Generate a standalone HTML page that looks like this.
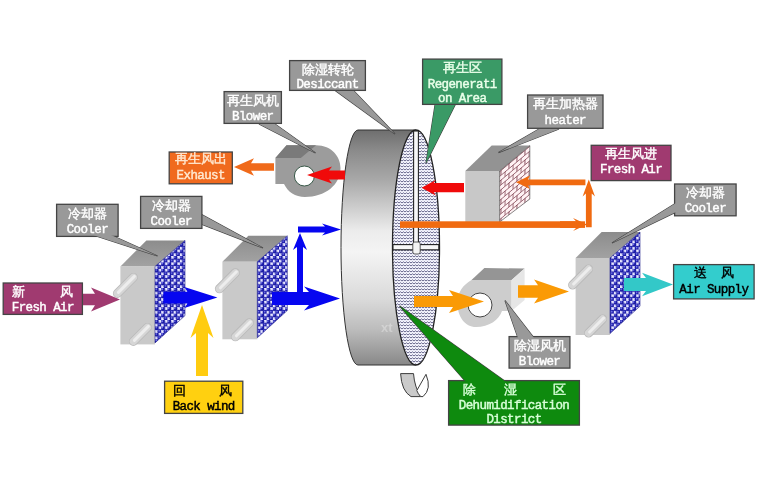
<!DOCTYPE html><html><head><meta charset="utf-8"><style>
html,body{margin:0;padding:0;background:#fff;width:757px;height:488px;overflow:hidden}
svg{display:block;will-change:transform}
.en{font-family:"Liberation Mono",monospace;font-size:12.5px;font-weight:normal;letter-spacing:-0.6px;stroke:currentColor;stroke-width:0.45px}
.zh{font-family:"Liberation Sans",sans-serif;font-size:12.5px;font-weight:normal;stroke:currentColor;stroke-width:0.4px}
</style></head><body>
<svg width="757" height="488" viewBox="0 0 757 488">
<defs>
<pattern id="mesh" width="6.2" height="6.4" patternUnits="userSpaceOnUse">
<rect width="6.2" height="6.4" fill="#e8e8ff"/>
<circle cx="1.55" cy="1.6" r="2.3" fill="#1818a4"/><circle cx="4.65" cy="4.8" r="2.3" fill="#1818a4"/>
<circle cx="1.1" cy="1.1" r="0.85" fill="#8080f4"/><circle cx="4.2" cy="4.3" r="0.85" fill="#8080f4"/>
</pattern>
<pattern id="wave" width="6" height="3" patternUnits="userSpaceOnUse">
<rect width="6" height="3" fill="#f6f6ff"/>
<path d="M0,2 L1.5,0.8 L3,2 L4.5,0.8 L6,2" fill="none" stroke="#54547c" stroke-width="0.9"/>
</pattern>
<pattern id="brick" width="8" height="9.6" patternUnits="userSpaceOnUse" patternTransform="skewY(-40)">
<rect width="8" height="9.6" fill="#fff2f4"/>
<path d="M0,0.4H8M0,5.2H8M1,0.4V5.2M5,5.2V10" fill="none" stroke="#7a3a4a" stroke-width="0.8"/>
</pattern>
<linearGradient id="wheelg" x1="0" y1="0" x2="0" y2="1">
<stop offset="0" stop-color="#6e6e6e"/><stop offset="0.085" stop-color="#8a8a8a"/><stop offset="0.21" stop-color="#a8a8a8"/><stop offset="0.43" stop-color="#ececec"/><stop offset="0.52" stop-color="#f4f4f4"/><stop offset="0.72" stop-color="#dadada"/><stop offset="0.85" stop-color="#bcbcbc"/><stop offset="1" stop-color="#888888"/>
</linearGradient>
<linearGradient id="topg" x1="0" y1="0" x2="0" y2="1">
<stop offset="0" stop-color="#8c8c8c"/><stop offset="1" stop-color="#a2a2a2"/>
</linearGradient>
<linearGradient id="frontg" x1="0" y1="0" x2="1" y2="0">
<stop offset="0" stop-color="#cfcfcf"/><stop offset="1" stop-color="#bdbdbd"/>
</linearGradient>
</defs>
<rect width="757" height="488" fill="#fff"/>

<polygon points="120.4,266.4 146.4,240.39999999999998 185.0,240.39999999999998 155.0,266.4" fill="url(#topg)"/>
<rect x="120.4" y="266.4" width="34.6" height="78" fill="#c9c9c9"/>
<polygon points="155.0,266.4 185.0,240.39999999999998 185.0,315.59999999999997 155.0,342.9" fill="url(#mesh)" stroke="#20208a" stroke-width="0.6"/>
<line x1="117.4" y1="293.4" x2="133.4" y2="277.4" stroke="#b9b9b9" stroke-width="9" stroke-linecap="round"/>
<line x1="117.4" y1="293.4" x2="133.4" y2="277.4" stroke="#d6d6d6" stroke-width="7.4" stroke-linecap="round"/>
<line x1="118.4" y1="292.4" x2="134.4" y2="276.4" stroke="#ededed" stroke-width="3" stroke-linecap="round"/>
<line x1="133.4" y1="341.4" x2="147.4" y2="327.4" stroke="#b9b9b9" stroke-width="9" stroke-linecap="round"/>
<line x1="133.4" y1="341.4" x2="147.4" y2="327.4" stroke="#d6d6d6" stroke-width="7.4" stroke-linecap="round"/>
<line x1="134.4" y1="340.4" x2="148.4" y2="326.4" stroke="#ededed" stroke-width="3" stroke-linecap="round"/>
<polygon points="222.4,261.8 248.4,235.8 287.3,235.8 257.3,261.8" fill="url(#topg)"/>
<rect x="222.4" y="261.8" width="34.9" height="77.5" fill="#c9c9c9"/>
<polygon points="257.3,261.8 287.3,235.8 287.3,310.5 257.3,337.8" fill="url(#mesh)" stroke="#20208a" stroke-width="0.6"/>
<line x1="219.4" y1="288.8" x2="235.4" y2="272.8" stroke="#b9b9b9" stroke-width="9" stroke-linecap="round"/>
<line x1="219.4" y1="288.8" x2="235.4" y2="272.8" stroke="#d6d6d6" stroke-width="7.4" stroke-linecap="round"/>
<line x1="220.4" y1="287.8" x2="236.4" y2="271.8" stroke="#ededed" stroke-width="3" stroke-linecap="round"/>
<line x1="235.4" y1="336.8" x2="249.4" y2="322.8" stroke="#b9b9b9" stroke-width="9" stroke-linecap="round"/>
<line x1="235.4" y1="336.8" x2="249.4" y2="322.8" stroke="#d6d6d6" stroke-width="7.4" stroke-linecap="round"/>
<line x1="236.4" y1="335.8" x2="250.4" y2="321.8" stroke="#ededed" stroke-width="3" stroke-linecap="round"/>
<polygon points="575.6,258 601.6,232 640.0,232 610.0,258" fill="url(#topg)"/>
<rect x="575.6" y="258" width="34.4" height="77" fill="#c9c9c9"/>
<polygon points="610.0,258 640.0,232 640.0,306.2 610.0,333.5" fill="url(#mesh)" stroke="#20208a" stroke-width="0.6"/>
<line x1="572.6" y1="285" x2="588.6" y2="269" stroke="#b9b9b9" stroke-width="9" stroke-linecap="round"/>
<line x1="572.6" y1="285" x2="588.6" y2="269" stroke="#d6d6d6" stroke-width="7.4" stroke-linecap="round"/>
<line x1="573.6" y1="284" x2="589.6" y2="268" stroke="#ededed" stroke-width="3" stroke-linecap="round"/>
<line x1="588.6" y1="333" x2="602.6" y2="319" stroke="#b9b9b9" stroke-width="9" stroke-linecap="round"/>
<line x1="588.6" y1="333" x2="602.6" y2="319" stroke="#d6d6d6" stroke-width="7.4" stroke-linecap="round"/>
<line x1="589.6" y1="332" x2="603.6" y2="318" stroke="#ededed" stroke-width="3" stroke-linecap="round"/>
<path d="M358,130.0 L416,130.0 L416,365.0 L358,365.0 A17,117.5 0 0 1 358,130.0 Z" fill="url(#wheelg)" stroke="#333" stroke-width="1"/>
<ellipse cx="416" cy="247.5" rx="23.5" ry="117.5" fill="url(#wave)" stroke="#222" stroke-width="1.3"/>
<rect x="413.6" y="131.0" width="4.8" height="113.5" fill="#f8f8f8" stroke="#222" stroke-width="1.1"/>
<rect x="393.0" y="244.6" width="45.8" height="5.2" fill="#f8f8f8" stroke="#222" stroke-width="1.1"/>
<rect x="412.8" y="242" width="7.4" height="12" rx="2" fill="#f4f4f4" stroke="#333" stroke-width="0.8"/>
<text x="381" y="332" font-family="Liberation Sans" font-size="13" font-weight="bold" fill="#fff" fill-opacity="0.3">xt</text>
<path d="M400.6,373.6 L413.5,373.6 Q414.5,387 420.8,396.6 L411,396.6 Q401.5,391 400.6,373.6 Z" fill="#cacaca" stroke="#3c3c3c" stroke-width="1"/>
<path d="M416.8,390.6 L426,374.3 Q432,389 423,396.6 L420.8,396.6 Q418,394 416.8,390.6 Z" fill="#fff" stroke="#3c3c3c" stroke-width="1"/>
<polygon points="465.3,171 491.7,145.6 529.8,145.6 499.6,171" fill="#939393"/>
<rect x="465.3" y="171" width="34.3" height="56" fill="#c8c8c8"/>
<polygon points="499.6,171 529.8,145.6 529.8,199 499.6,222" fill="url(#brick)" stroke="#555" stroke-width="0.7"/>
<path d="M275.4,158 L286.5,145.3 L316,145.3 C332,145.3 340.5,157 340.5,168 C340.5,185 325,197 305,197 C295,197 288,192 284,184 L275.4,184 Z" fill="#9c9c9c"/>
<polygon points="275.4,158 286.5,145.3 316,145.3 300.8,158" fill="#7a7a7a"/>
<circle cx="304.4" cy="176" r="10" fill="#fff" stroke="#3a5a4a" stroke-width="1"/>
<path d="M471.5,280 L511.6,280 L511.6,311 L502,311 C499,320 489,327 476,327 C465,327 457.5,317 457.5,303 C457.5,292 463,285 471.5,280 Z" fill="#cdcdcd"/>
<polygon points="471.5,280 484.4,268 524.6,268.6 511.6,280" fill="#959595"/>
<polygon points="511.6,280 524.6,268.6 524.6,300 511.6,311" fill="#e6e6e6"/>
<circle cx="480" cy="305" r="12" fill="#fff" stroke="#444" stroke-width="1"/>
<polygon points="163.40,291.80 187.40,291.80 184.40,287.10 217.40,297.60 184.40,308.10 187.40,303.40 163.40,303.40" fill="#0606f0" />
<polygon points="272.00,292.00 309.00,292.00 304.00,286.50 340.00,298.50 304.00,310.50 309.00,305.00 272.00,305.00" fill="#0606f0" />
<polygon points="297.00,299.00 297.00,247.00 293.00,250.00 300.00,233.00 307.00,250.00 303.00,247.00 303.00,299.00" fill="#0606f0" />
<polygon points="298.00,226.50 325.00,226.50 322.00,223.50 341.00,229.50 322.00,235.50 325.00,232.50 298.00,232.50" fill="#0606f0" />
<polygon points="83.00,293.70 95.00,293.70 91.00,287.50 120.00,299.50 91.00,311.50 95.00,305.30 83.00,305.30" fill="#a03a70" />
<polygon points="196.00,376.00 196.00,333.00 190.50,338.00 202.00,305.00 213.50,338.00 208.00,333.00 208.00,376.00" fill="#ffcc10" />
<polygon points="345.00,179.50 329.00,179.50 332.00,183.50 307.00,175.00 332.00,166.50 329.00,170.50 345.00,170.50" fill="#f00a0a" />
<polygon points="464.00,192.30 433.60,192.30 436.10,195.70 421.60,187.70 436.10,179.70 433.60,183.10 464.00,183.10" fill="#f00a0a" />
<polygon points="274.00,170.70 251.00,170.70 254.00,175.70 234.00,167.00 254.00,158.30 251.00,163.30 274.00,163.30" fill="#f06a1a" />
<rect x="400" y="221.3" width="185" height="6.6" fill="#f06a10"/>
<polygon points="560.00,221.30 576.00,221.30 573.00,218.10 587.00,224.60 573.00,231.10 576.00,227.90 560.00,227.90" fill="#f06a10" />
<polygon points="585.90,227.30 585.90,193.60 582.60,196.60 588.80,179.60 595.00,196.60 591.70,193.60 591.70,227.30" fill="#f06a10" />
<polygon points="585.40,185.20 528.00,185.20 530.00,189.00 516.00,182.30 530.00,175.60 528.00,179.40 585.40,179.40" fill="#f06a10" />
<polygon points="414.00,296.10 453.00,296.10 449.00,290.00 484.00,301.50 449.00,313.00 453.00,306.90 414.00,306.90" fill="#fa9a05" />
<polygon points="518.00,285.20 538.00,285.20 534.00,279.50 569.00,291.50 534.00,303.50 538.00,297.80 518.00,297.80" fill="#fa9a05" />
<polygon points="624.00,278.10 646.00,278.10 642.00,272.70 673.00,284.50 642.00,296.30 646.00,290.90 624.00,290.90" fill="#33c8c8" />
<polygon points="336,91 354,91 395,134" fill="#999999" stroke="#444" stroke-width="1.2"/>
<rect x="289.6" y="60.6" width="75.8" height="29.8" fill="#999999" stroke="#444" stroke-width="1.3"/>
<polygon points="336,91 354,91 395,134" fill="#999999" stroke="none"/>
<text x="327.5" y="73.5" class="zh" text-anchor="middle" fill="#fff" style="color:#fff">除湿转轮</text>
<text x="327.5" y="88" class="en" text-anchor="middle" fill="#fff" style="color:#fff">Desiccant</text>
<polygon points="259,124 275,124 315.5,153" fill="#999999" stroke="#444" stroke-width="1.2"/>
<rect x="224.1" y="91.6" width="57.3" height="31.8" fill="#999999" stroke="#444" stroke-width="1.3"/>
<polygon points="259,124 275,124 315.5,153" fill="#999999" stroke="none"/>
<text x="252.75" y="104.5" class="zh" text-anchor="middle" fill="#fff" style="color:#fff">再生风机</text>
<text x="252.75" y="120" class="en" text-anchor="middle" fill="#fff" style="color:#fff">Blower</text>
<rect x="169.2" y="152.0" width="63.099999999999994" height="31.8" fill="#f06a1e" stroke="#444" stroke-width="1.3"/>
<text x="200.75" y="163" class="zh" text-anchor="middle" fill="#ffe8d0" style="color:#ffe8d0">再生风出</text>
<text x="200.75" y="178.8" class="en" text-anchor="middle" fill="#ffe8d0" style="color:#ffe8d0">Exhaust</text>
<polygon points="435,105 455,105 426,163" fill="#3a9a66" stroke="#444" stroke-width="1.2"/>
<rect x="422.6" y="59.1" width="79.3" height="45.3" fill="#3a9a66" stroke="#444" stroke-width="1.3"/>
<polygon points="435,105 455,105 426,163" fill="#3a9a66" stroke="none"/>
<text x="462.25" y="71.5" class="zh" text-anchor="middle" fill="#eaffea" style="color:#eaffea">再生区</text>
<text x="462.25" y="87.5" class="en" text-anchor="middle" fill="#eaffea" style="color:#eaffea">Regenerati</text>
<text x="462.25" y="101.5" class="en" text-anchor="middle" fill="#eaffea" style="color:#eaffea">on Area</text>
<polygon points="539,129 559,129 498.5,152.6" fill="#999999" stroke="#444" stroke-width="1.2"/>
<rect x="527.6" y="95.0" width="75.39999999999999" height="33.3" fill="#999999" stroke="#444" stroke-width="1.3"/>
<polygon points="539,129 559,129 498.5,152.6" fill="#999999" stroke="none"/>
<text x="565.3" y="107.5" class="zh" text-anchor="middle" fill="#fff" style="color:#fff">再生加热器</text>
<text x="565.3" y="124" class="en" text-anchor="middle" fill="#fff" style="color:#fff">heater</text>
<rect x="591.2" y="145.29999999999998" width="79.8" height="35.3" fill="#a03a70" stroke="#444" stroke-width="1.3"/>
<text x="631.1" y="158" class="zh" text-anchor="middle" fill="#fff" style="color:#fff">再生风进</text>
<text x="631.1" y="172.5" class="en" text-anchor="middle" fill="#fff" style="color:#fff">Fresh Air</text>
<polygon points="676,203 676,212 612,243" fill="#999999" stroke="#444" stroke-width="1.2"/>
<rect x="674.6" y="184.0" width="61.5" height="31.8" fill="#999999" stroke="#444" stroke-width="1.3"/>
<polygon points="676,203 676,212 612,243" fill="#999999" stroke="none"/>
<text x="705.35" y="196.5" class="zh" text-anchor="middle" fill="#fff" style="color:#fff">冷却器</text>
<text x="705.35" y="212" class="en" text-anchor="middle" fill="#fff" style="color:#fff">Cooler</text>
<rect x="673.6" y="264.6" width="80.5" height="34.3" fill="#33cdcd" stroke="#444" stroke-width="1.3"/>
<text x="700" y="276.5" class="zh" text-anchor="middle" fill="#000" style="color:#000">送</text>
<text x="727.7" y="276.5" class="zh" text-anchor="middle" fill="#000" style="color:#000">风</text>
<text x="713.85" y="292.5" class="en" text-anchor="middle" fill="#000" style="color:#000">Air Supply</text>
<polygon points="518,338 534,338 505,300.5" fill="#999999" stroke="#444" stroke-width="1.2"/>
<rect x="509.1" y="336.6" width="60.8" height="31.500000000000004" fill="#999999" stroke="#444" stroke-width="1.3"/>
<polygon points="518,338 534,338 505,300.5" fill="#999999" stroke="none"/>
<text x="539.5" y="349.5" class="zh" text-anchor="middle" fill="#fff" style="color:#fff">除湿风机</text>
<text x="539.5" y="365" class="en" text-anchor="middle" fill="#fff" style="color:#fff">Blower</text>
<polygon points="466,382 506,382 399.6,306" fill="#0e8a0e" stroke="#444" stroke-width="1.2"/>
<rect x="448.6" y="380.6" width="130.8" height="44.5" fill="#0e8a0e" stroke="#444" stroke-width="1.3"/>
<polygon points="466,382 506,382 399.6,306" fill="#0e8a0e" stroke="none"/>
<text x="469" y="393.5" class="zh" text-anchor="middle" fill="#d8ffd8" style="color:#d8ffd8">除</text>
<text x="510" y="393.5" class="zh" text-anchor="middle" fill="#d8ffd8" style="color:#d8ffd8">湿</text>
<text x="559.5" y="393.5" class="zh" text-anchor="middle" fill="#d8ffd8" style="color:#d8ffd8">区</text>
<text x="514" y="409" class="en" text-anchor="middle" fill="#d8ffd8" style="color:#d8ffd8">Dehumidification</text>
<text x="514" y="423" class="en" text-anchor="middle" fill="#d8ffd8" style="color:#d8ffd8">District</text>
<polygon points="93,235 111,235 157.6,256" fill="#999999" stroke="#444" stroke-width="1.2"/>
<rect x="56.6" y="204.29999999999998" width="61.5" height="32.099999999999994" fill="#999999" stroke="#444" stroke-width="1.3"/>
<polygon points="93,235 111,235 157.6,256" fill="#999999" stroke="none"/>
<text x="87.35" y="217.5" class="zh" text-anchor="middle" fill="#fff" style="color:#fff">冷却器</text>
<text x="87.35" y="233" class="en" text-anchor="middle" fill="#fff" style="color:#fff">Cooler</text>
<polygon points="202.5,215 202.5,224.5 263,248" fill="#999999" stroke="#444" stroke-width="1.2"/>
<rect x="140.6" y="196.4" width="61.3" height="32.0" fill="#999999" stroke="#444" stroke-width="1.3"/>
<polygon points="202.5,215 202.5,224.5 263,248" fill="#999999" stroke="none"/>
<text x="171.25" y="209.5" class="zh" text-anchor="middle" fill="#fff" style="color:#fff">冷却器</text>
<text x="171.25" y="225" class="en" text-anchor="middle" fill="#fff" style="color:#fff">Cooler</text>
<rect x="3.2" y="283.0" width="79.2" height="31.400000000000002" fill="#a03a70" stroke="#444" stroke-width="1.3"/>
<text x="18" y="295.5" class="zh" text-anchor="middle" fill="#fff" style="color:#fff">新</text>
<text x="66.5" y="295.5" class="zh" text-anchor="middle" fill="#fff" style="color:#fff">风</text>
<text x="42.8" y="311" class="en" text-anchor="middle" fill="#fff" style="color:#fff">Fresh Air</text>
<rect x="164.6" y="381.20000000000005" width="78.2" height="32.199999999999996" fill="#ffd010" stroke="#444" stroke-width="1.3"/>
<text x="179" y="394.5" class="zh" text-anchor="middle" fill="#000" style="color:#000">回</text>
<text x="225.5" y="394.5" class="zh" text-anchor="middle" fill="#000" style="color:#000">风</text>
<text x="203.7" y="410" class="en" text-anchor="middle" fill="#000" style="color:#000">Back wind</text>
</svg></body></html>
